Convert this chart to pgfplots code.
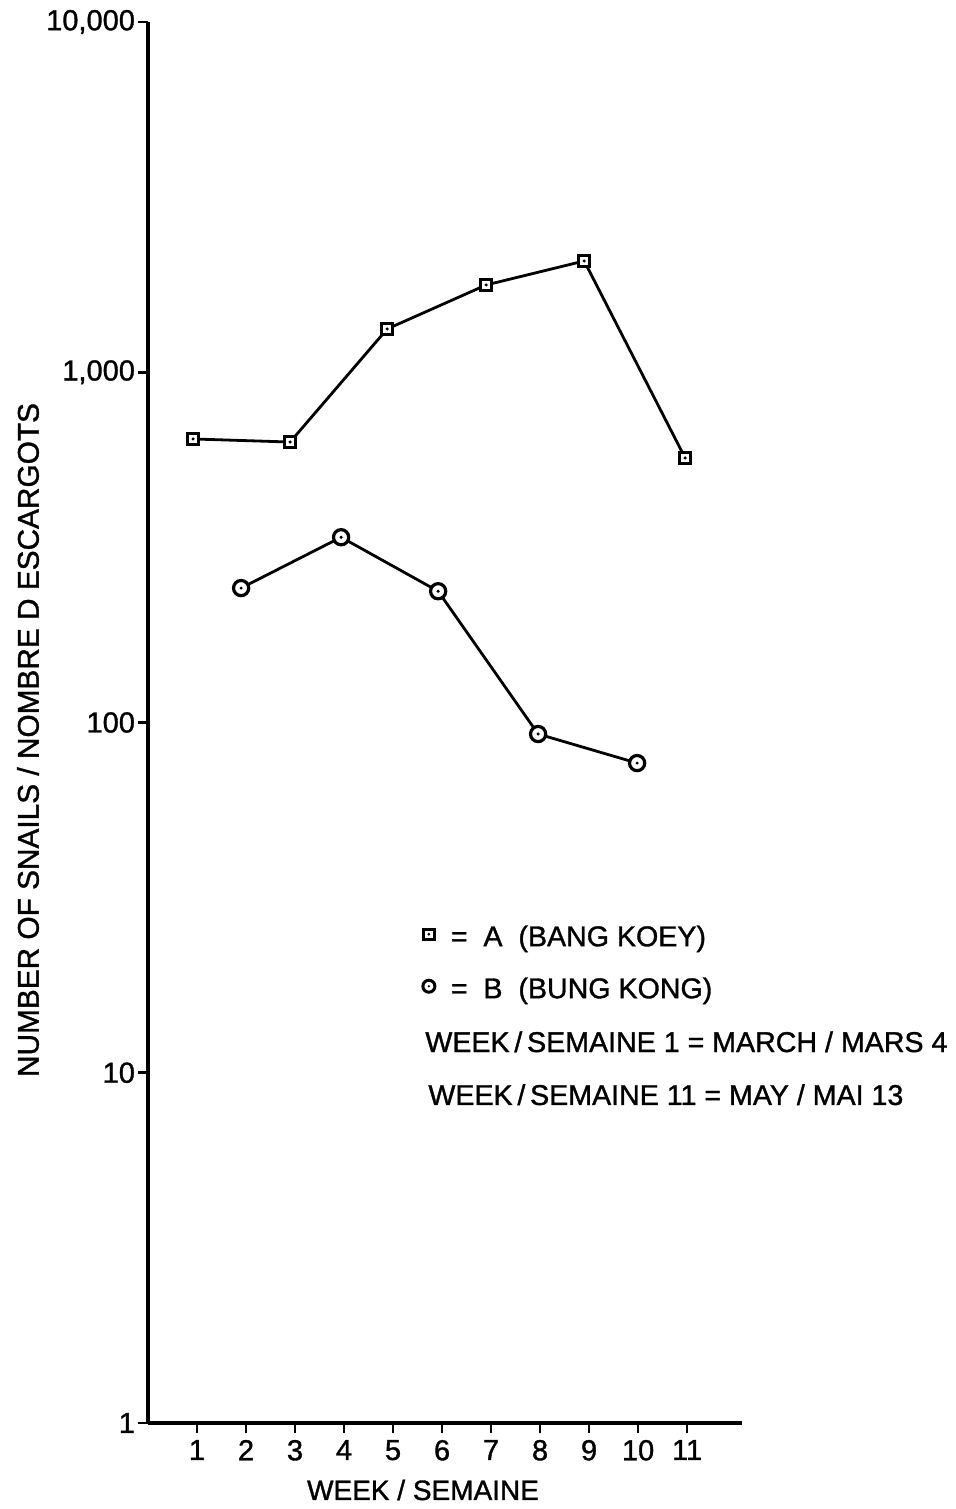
\documentclass[border=0pt]{standalone}
\usepackage{pgfplots}
\pgfplotsset{compat=1.18}
\usepackage{fontspec}
\setmainfont{Liberation Sans}[FakeBold=1]
\newfontfamily\medfont{Liberation Sans}[FakeBold=1.2]

\pgfdeclareplotmark{sqdot}{%
  \pgfsetfillcolor{white}%
  \pgfpathrectangle{\pgfpoint{-\pgfplotmarksize}{-\pgfplotmarksize}}{\pgfpoint{2\pgfplotmarksize}{2\pgfplotmarksize}}%
  \pgfusepathqfillstroke
  \pgfsetfillcolor{black}%
  \pgfpathcircle{\pgfpointorigin}{0.3\pgfplotmarksize}%
  \pgfusepathqfill}
\pgfdeclareplotmark{circdot}{%
  \pgfsetfillcolor{white}%
  \pgfpathcircle{\pgfpointorigin}{\pgfplotmarksize}%
  \pgfusepathqfillstroke
  \pgfsetfillcolor{black}%
  \pgfpathcircle{\pgfpointorigin}{0.22\pgfplotmarksize}%
  \pgfusepathqfill}

\newcommand{\txt}{\medfont\fontsize{14.3}{15}\selectfont}

\begin{document}
\begin{tikzpicture}
\begin{axis}[
  scale only axis,
  clip=false,
  width=297pt, height=700.5pt,
  ymode=log,
  xmin=0, xmax=12.12,
  ymin=1, ymax=10000,
  axis lines=left,
  axis line style={-, line width=1.6pt},
  xtick={1,2,3,4,5,6,7,8,9,10,11},
  ytick={1,10,100,1000,10000},
  yticklabels={1,10,100,{1,000},{10,000}},
  yminorticks=false,
  tick align=outside,
  major tick length=5pt,
  tick style={line width=1.3pt, black},
  /pgf/number format/assume math mode=true,
  ticklabel style={font=\medfont\fontsize{14.5}{15}\selectfont},
  yticklabel style={xshift=2pt},
  xlabel={WEEK / SEMAINE},
  ylabel={NUMBER OF SNAILS / NOMBRE D ESCARGOTS},
  xlabel style={font=\medfont\fontsize{14}{15}\selectfont, at={(axis description cs:0.463,-0.0478)}, anchor=center},
  ylabel style={font=\medfont\fontsize{14.9}{15}\selectfont, at={(axis description cs:-0.202,0.4875)}, anchor=center},
  legend style={draw=none, fill=none, at={(axis description cs:0.452,0.362)}, anchor=north west,
    font=\txt, row sep=12pt, nodes={inner sep=1pt, text height=12pt, text depth=0pt}},
  legend cell align=left,
]
\addplot[line width=1.4pt, mark=sqdot, mark size=2.8pt, mark options={line width=1.6pt, solid}, forget plot]
  coordinates {(0.92,645)(2.9,632)(4.88,1329)(6.9,1775)(8.9,2078)(10.96,569)};
\addplot[line width=1.4pt, mark=circdot, mark size=3.8pt, mark options={line width=1.6pt, solid}, forget plot]
  coordinates {(1.9,242)(3.94,338)(5.92,237)(7.96,92.7)(9.98,76.6)};
\addlegendimage{only marks, mark=sqdot, mark size=2.6pt, mark options={line width=1.5pt}}
\addlegendentry{\hspace{7pt}=\ \ A\ \ (BANG KOEY)}
\addlegendimage{only marks, mark=circdot, mark size=3pt, mark options={line width=1.5pt}}
\addlegendentry{\hspace{7pt}=\ \ B\ \ (BUNG KONG)}
\node[anchor=base west, font=\txt, inner sep=0pt] at (axis description cs:0.4663,0.2648) {WEEK\,/\,SEMAINE 1 = MARCH / MARS 4};
\node[anchor=base west, font=\txt, inner sep=0pt] at (axis description cs:0.4714,0.227) {WEEK\,/\,SEMAINE 11 = MAY / MAI 13};
\coordinate (ll) at (axis description cs:0,0);
\end{axis}
\pgfresetboundingbox
\path[use as bounding box] ([xshift=-74pt,yshift=-43pt]ll) rectangle ([xshift=404pt,yshift=711.5pt]ll);
\end{tikzpicture}
\end{document}
